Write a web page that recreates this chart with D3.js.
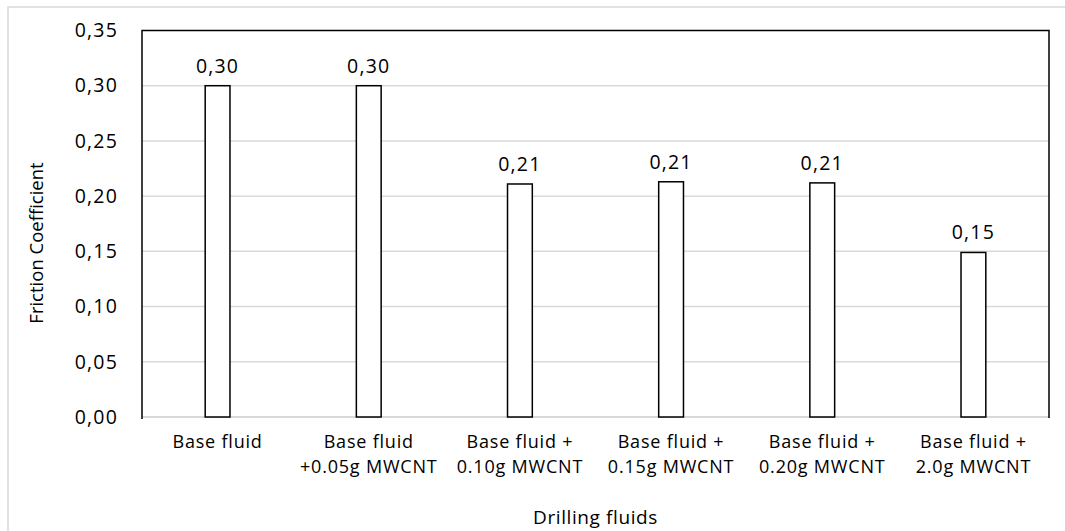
<!DOCTYPE html>
<html>
<head>
<meta charset="utf-8">
<script src="https://cdn.jsdelivr.net/npm/d3@7"></script>
<style>
  html, body { margin: 0; padding: 0; background: #fff; }
  svg { display: block; }
</style>
</head>
<body>
<svg id="chart" width="1065" height="531"></svg>
<script>
const categories = [
  ["Base fluid"],
  ["Base fluid", "+0.05g MWCNT"],
  ["Base fluid +", "0.10g MWCNT"],
  ["Base fluid +", "0.15g MWCNT"],
  ["Base fluid +", "0.20g MWCNT"],
  ["Base fluid +", "2.0g MWCNT"]
];
const values = [0.300, 0.300, 0.211, 0.213, 0.212, 0.149];
const yTicks = [0, 0.05, 0.10, 0.15, 0.20, 0.25, 0.30, 0.35];
const yTitle = "Friction Coefficient";
const xTitle = "Drilling fluids";

(function () {
const svg = d3.select("#chart");
const W = 1065, H = 531;
const pLeft = 142, pRight = 1049, pTop = 30.5, pBottom = 417;
const font = "'Open Sans', sans-serif";
const fmt = v => d3.format(".2f")(v).replace(".", ",");

// chart area border (light gray)
svg.append("path")
  .attr("d", `M8,${H} L8,7 L${W},7`)
  .attr("fill", "none").attr("stroke", "#d9d9d9").attr("stroke-width", 1.5);

const keys = categories.map((c, i) => i);
const x = d3.scaleBand().domain(keys).range([pLeft, pRight])
  .paddingInner(0.836).paddingOuter(0.418);
const y = d3.scaleLinear().domain([0, 0.35]).range([pBottom, pTop]);

// gridlines
svg.append("g").selectAll("line").data(yTicks.filter(t => t > 0 && t < 0.35)).join("line")
  .attr("x1", pLeft).attr("x2", pRight)
  .attr("y1", d => y(d)).attr("y2", d => y(d))
  .attr("stroke", "#d9d9d9").attr("stroke-width", 1.5);

// bottom axis line (gray)
svg.append("line")
  .attr("x1", pLeft).attr("x2", pRight).attr("y1", y(0)).attr("y2", y(0))
  .attr("stroke", "#d9d9d9").attr("stroke-width", 2);

// plot border: left, top, right black
svg.append("path")
  .attr("d", `M${pLeft},${y(0) + 2} L${pLeft},${pTop} L${pRight},${pTop} L${pRight},${y(0) + 1}`)
  .attr("fill", "none").attr("stroke", "#000").attr("stroke-width", 1.5);

// y tick labels via axis
const yAxis = d3.axisLeft(y).tickValues(yTicks).tickFormat(fmt).tickSize(0).tickPadding(24);
const gy = svg.append("g").attr("transform", `translate(${pLeft},0)`).call(yAxis);
gy.select(".domain").remove();
gy.selectAll("text")
  .attr("font-family", font).attr("font-size", 19.5).attr("letter-spacing", 1.2)
  .attr("fill", "#000");

// bars
svg.append("g").selectAll("rect").data(values).join("rect")
  .attr("x", (d, i) => x(i))
  .attr("y", d => y(d))
  .attr("width", x.bandwidth())
  .attr("height", d => y(0) - y(d))
  .attr("fill", "#fff").attr("stroke", "#000").attr("stroke-width", 1.5);

// data labels
svg.append("g").selectAll("text").data(values).join("text")
  .attr("x", (d, i) => x(i) + x.bandwidth() / 2)
  .attr("y", d => y(d) - 13)
  .attr("text-anchor", "middle")
  .attr("font-family", font).attr("font-size", 19.5).attr("letter-spacing", 1.2)
  .attr("fill", "#000")
  .text(d => fmt(d));

// category labels (one text element per line)
const lineData = [];
categories.forEach((lines, i) => lines.forEach((ln, j) => lineData.push({ i, j, ln })));
svg.append("g").selectAll("text").data(lineData).join("text")
  .attr("x", d => x(d.i) + x.bandwidth() / 2)
  .attr("y", d => 448 + d.j * 24.6)
  .attr("text-anchor", "middle")
  .attr("font-family", font).attr("font-size", 18).attr("letter-spacing", 0.8)
  .attr("fill", "#000")
  .text(d => d.ln);

// axis titles
svg.append("text")
  .attr("x", (pLeft + pRight) / 2).attr("y", 524)
  .attr("text-anchor", "middle")
  .attr("font-family", font).attr("font-size", 19)
  .attr("letter-spacing", 0.6)
  .attr("fill", "#000")
  .text(xTitle);

svg.append("text")
  .attr("transform", "translate(43,243) rotate(-90)")
  .attr("text-anchor", "middle")
  .attr("font-family", font).attr("font-size", 18.5)
  .attr("fill", "#000")
  .text(yTitle);
})();
</script>
</body>
</html>
